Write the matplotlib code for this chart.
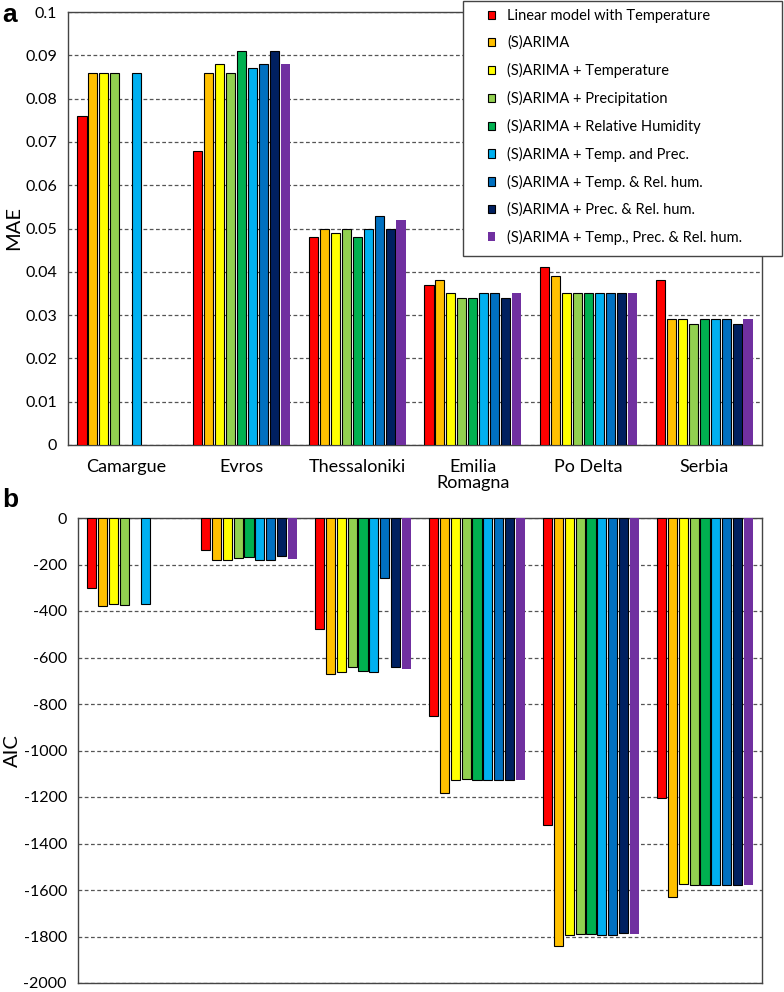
import numpy as np
import matplotlib
matplotlib.use("Agg")
import matplotlib.pyplot as plt
from matplotlib.patches import Rectangle
from matplotlib.ticker import FuncFormatter

plt.rcParams['font.family'] = ['Lato', 'DejaVu Sans']
plt.rcParams['axes.unicode_minus'] = False

regions = ["Camargue", "Evros", "Thessaloniki", "Emilia\nRomagna", "Po Delta", "Serbia"]
models = ["Linear model with Temperature", "(S)ARIMA", "(S)ARIMA + Temperature",
          "(S)ARIMA + Precipitation", "(S)ARIMA + Relative Humidity",
          "(S)ARIMA + Temp. and Prec.", "(S)ARIMA + Temp. & Rel. hum.",
          "(S)ARIMA + Prec. & Rel. hum.", "(S)ARIMA + Temp., Prec. & Rel. hum."]
colors = ["#FF0000", "#FFC000", "#FFFF00", "#92D050", "#00B050",
          "#00B0F0", "#0070C0", "#002060", "#7030A0"]

nan = np.nan
# rows = models, columns = regions
mae = [
    [0.076, 0.068, 0.048, 0.037, 0.041, 0.038],
    [0.086, 0.086, 0.050, 0.038, 0.039, 0.029],
    [0.086, 0.088, 0.049, 0.035, 0.035, 0.029],
    [0.086, 0.086, 0.050, 0.034, 0.035, 0.028],
    [nan,   0.091, 0.048, 0.034, 0.035, 0.029],
    [0.086, 0.087, 0.050, 0.035, 0.035, 0.029],
    [nan,   0.088, 0.053, 0.035, 0.035, 0.029],
    [nan,   0.091, 0.050, 0.034, 0.035, 0.028],
    [nan,   0.088, 0.052, 0.035, 0.035, 0.029],
]
aic = [
    [-300, -138, -476,  -852, -1321, -1205],
    [-380, -180, -671, -1182, -1839, -1632],
    [-371, -180, -661, -1127, -1792, -1575],
    [-375, -174, -640, -1123, -1788, -1580],
    [nan,  -167, -656, -1127, -1788, -1578],
    [-368, -181, -661, -1125, -1792, -1580],
    [nan,  -180, -256, -1129, -1792, -1578],
    [nan,  -165, -641, -1127, -1786, -1580],
    [nan,  -177, -649, -1127, -1789, -1580],
]

fig = plt.figure(figsize=(7.84, 9.92), dpi=100)
ax1 = fig.add_axes([68/784, 1 - 445/992, 694/784, 433/992])
ax2 = fig.add_axes([78/784, 1 - 983/992, 684/784, 465/992])

x = np.arange(len(regions))
slot = 0.095
width = 0.08


def draw(ax, data):
    for i, (vals, c) in enumerate(zip(data, colors)):
        edge = "none" if i == 8 else "black"
        ax.bar(x + (i - 4) * slot, vals, width, color=c, edgecolor=edge,
               linewidth=0.8, zorder=3, label=models[i])
    ax.set_xlim(-0.5, len(regions) - 0.5)
    ax.grid(axis="y", linestyle=(0, (3, 2)), color="#555555", linewidth=0.9, zorder=0)
    ax.tick_params(axis="y", length=0, labelsize=11.5, pad=8)
    ax.tick_params(axis="x", length=0)
    for s in ax.spines.values():
        s.set_color("#444444")
        s.set_linewidth(1.0)


draw(ax1, mae)
ax1.set_ylim(0, 0.1)
ax1.set_yticks(np.arange(0, 0.1001, 0.01))
ax1.yaxis.set_major_formatter(FuncFormatter(lambda v, p: f"{round(v, 3):g}"))
ax1.set_xticks(x)
ax1.set_xticklabels(regions, fontsize=13, linespacing=1.0)
ax1.tick_params(axis="x", pad=10)
ax1.set_ylabel("MAE", fontsize=14.5)
ax1.yaxis.set_label_coords(-0.066, 0.5)

draw(ax2, aic)
ax2.set_ylim(-2000, 0)
ax2.set_yticks(np.arange(-2000, 1, 200))
ax2.set_xticks([])
ax2.set_ylabel("AIC", fontsize=14.5)
ax2.yaxis.set_label_coords(-0.083, 0.5)

fig.text(0.003, 0.997, "a", fontsize=19, fontweight="bold",
         family="Liberation Sans", va="top")
fig.text(0.003, 0.508, "b", fontsize=19, fontweight="bold",
         family="Liberation Sans", va="top")

# legend box (wider than the legend entries, as in the original)
fig.patches.append(Rectangle((463/784, 1 - 256/992), 319/784, 255/992,
                             transform=fig.transFigure, facecolor="white",
                             edgecolor="#444444", linewidth=1.0, zorder=4))
handles, labels = ax1.get_legend_handles_labels()
leg = fig.legend(handles, labels, loc="upper left",
                 bbox_to_anchor=(488/784, 1 - 9/992), fontsize=10.5,
                 handlelength=0.5, handleheight=0.5, handletextpad=0.8,
                 labelspacing=0.88, borderpad=0, borderaxespad=0,
                 frameon=False)
leg.set_zorder(5)

fig.savefig("out.png", dpi=100)
